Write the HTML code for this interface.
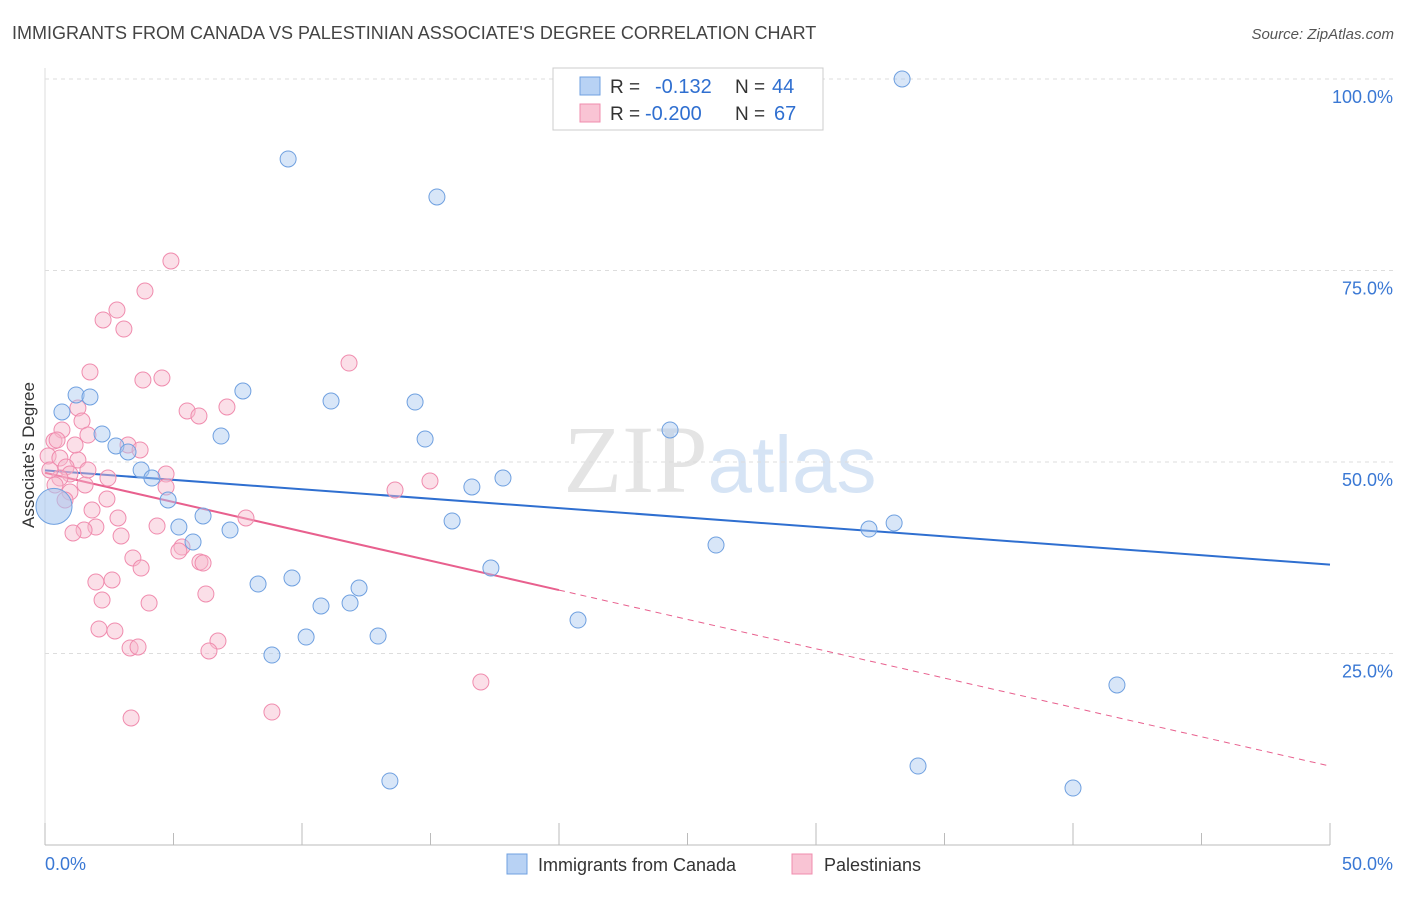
<!DOCTYPE html>
<html><head><meta charset="utf-8"><style>
body{margin:0;background:#fff;font-family:"Liberation Sans",sans-serif}
</style></head><body>
<svg id="c" width="1406" height="892" xmlns="http://www.w3.org/2000/svg" style="font-family:'Liberation Sans',sans-serif">
<text x="12" y="39" font-size="18" fill="#444">IMMIGRANTS FROM CANADA VS PALESTINIAN ASSOCIATE'S DEGREE CORRELATION CHART</text>
<text x="1394" y="39" font-size="15" fill="#555" text-anchor="end" font-style="italic">Source: ZipAtlas.com</text>
<text x="720" y="492" font-size="96" fill="#e4e4e4" text-anchor="middle" font-family="Liberation Serif">ZIP<tspan fill="#d6e4f5" font-family="Liberation Sans" font-size="80">atlas</tspan></text>
<g id="grid"></g><g id="axes"></g><g id="lines"></g><g id="pts"></g>
<text transform="translate(34,455) rotate(-90)" font-size="17" fill="#333" text-anchor="middle">Associate's Degree</text>
<g>
<rect x="553" y="68" width="270" height="62" fill="#fff" stroke="#ccc"/>
<rect x="580" y="77" width="20" height="18" fill="#b8d2f4" stroke="#6fa0e0"/>
<rect x="580" y="104" width="20" height="18" fill="#f9c4d4" stroke="#f08cae"/>
<text x="610" y="93" font-size="19" fill="#333">R =</text>
<text x="655" y="93" font-size="20" fill="#2f6fd0">-0.132</text>
<text x="735" y="93" font-size="19" fill="#333">N =</text>
<text x="772" y="93" font-size="20" fill="#2f6fd0">44</text>
<text x="610" y="120" font-size="19" fill="#333">R =</text>
<text x="645" y="120" font-size="20" fill="#2f6fd0">-0.200</text>
<text x="735" y="120" font-size="19" fill="#333">N =</text>
<text x="774" y="120" font-size="20" fill="#2f6fd0">67</text>
</g>
<g>
<rect x="507" y="854" width="20" height="20" fill="#b8d2f4" stroke="#6fa0e0"/>
<text x="538" y="871" font-size="18" fill="#333">Immigrants from Canada</text>
<rect x="792" y="854" width="20" height="20" fill="#f9c4d4" stroke="#f08cae"/>
<text x="824" y="871" font-size="18" fill="#333">Palestinians</text>
</g>
</svg>
<script>
const yTicks=[25,50,75,100];
const yTickLabels=["25.0%","50.0%","75.0%","100.0%"];
const xTickLabels=["0.0%","50.0%"];
const bluePx=[[902,79],[288,159],[437,197],[62,412],[76,395],[90,397],[243,391],[331,401],[415,402],[221,436],[425,439],[670,430],[102,434],[116,446],[128,452],[141,470],[152,478],[168,500],[503,478],[472,487],[179,527],[203,516],[193,542],[230,530],[452,521],[869,529],[894,523],[716,545],[491,568],[292,578],[258,584],[359,588],[321,606],[350,603],[306,637],[378,636],[578,620],[272,655],[1117,685],[918,766],[390,781],[1073,788],[808,80]];
const pinkPx=[[171,261],[145,291],[117,310],[103,320],[124,329],[349,363],[90,372],[143,380],[162,378],[187,411],[199,416],[227,407],[78,408],[82,421],[62,430],[88,435],[54,441],[57,440],[128,445],[140,450],[48,456],[60,458],[78,460],[66,467],[70,474],[166,474],[108,478],[60,478],[85,485],[166,487],[430,481],[395,490],[70,492],[107,499],[92,510],[118,518],[246,518],[157,526],[96,527],[84,530],[73,533],[121,536],[182,547],[179,551],[133,558],[141,568],[200,562],[203,563],[96,582],[112,580],[102,600],[206,594],[149,603],[99,629],[115,631],[218,641],[130,648],[138,647],[209,651],[481,682],[272,712],[131,718],[50,470],[55,485],[65,500],[88,470],[75,445]];
const toData=p=>[+((p[0]-45)/1285*50).toFixed(2),+((845-p[1])/766*100).toFixed(2)];
const blueX=bluePx.map(p=>toData(p)[0]), blueY=bluePx.map(p=>toData(p)[1]);
const pinkX=pinkPx.map(p=>toData(p)[0]), pinkY=pinkPx.map(p=>toData(p)[1]);
const bigBlue=[0.35,44.2];
const blueLine=[48.9,36.6];
const pinkLine=[48.6,10.3]; const pinkSolidEnd=20;
const X=v=>45+v/50*1285, Y=v=>845-v/100*766;
const NS="http://www.w3.org/2000/svg";
function mk(t,a,parent){const e=document.createElementNS(NS,t);for(const k in a)e.setAttribute(k,a[k]);document.getElementById(parent).appendChild(e);return e;}
yTicks.forEach((t,i)=>{
 const g=mk('line',{x1:45,x2:1394,y1:Y(t),y2:Y(t),stroke:'#ddd','stroke-dasharray':'4,4'},'grid');
 
 
 const l=mk('text',{x:1393,y:Y(t)+24,'font-size':18,fill:'#3a78d4','text-anchor':'end'},'axes');
 l.textContent=yTickLabels[i];
 
 
});
const ax=mk('line',{x1:45,x2:1330,y1:845,y2:845,stroke:'#bbb'},'axes');


const ay=mk('line',{x1:45,x2:45,y1:68,y2:845,stroke:'#ddd'},'axes');


for(let i=0;i<=10;i++){const t=mk('line',{x1:X(i*5),x2:X(i*5),y1:845,y2:i%2?833:823,stroke:'#bbb'},'axes');
 
 }
[[45,'start',0],[1393,'end',1]].forEach(([x,a,i])=>{const t=mk('text',{x:x,y:870,'font-size':18,fill:'#3a78d4','text-anchor':a},'axes');t.textContent=xTickLabels[i];
 
 });
const bl=mk('line',{x1:X(0),y1:Y(blueLine[0]),x2:X(50),y2:Y(blueLine[1]),stroke:'#2f6fd0','stroke-width':2},'lines');


const py=x=>pinkLine[0]+(pinkLine[1]-pinkLine[0])*x/50;
const ps=mk('line',{x1:X(0),y1:Y(py(0)),x2:X(pinkSolidEnd),y2:Y(py(pinkSolidEnd)),stroke:'#e8608e','stroke-width':2},'lines');


const pd=mk('line',{x1:X(pinkSolidEnd),y1:Y(py(pinkSolidEnd)),x2:X(50),y2:Y(py(50)),stroke:'#e8608e','stroke-width':1,'stroke-dasharray':'6,5'},'lines');


pinkX.forEach((x,i)=>{const c=mk('circle',{cx:X(x),cy:Y(pinkY[i]),r:8,fill:'rgba(247,184,203,0.45)',stroke:'#f08cae','stroke-width':1},'pts');
 
 });
blueX.forEach((x,i)=>{const c=mk('circle',{cx:X(x),cy:Y(blueY[i]),r:8,fill:'rgba(168,200,240,0.45)',stroke:'#6fa0e0','stroke-width':1},'pts');
 
 });
const bb=mk('circle',{cx:X(bigBlue[0]),cy:Y(bigBlue[1]),r:18,fill:'rgba(168,200,240,0.6)',stroke:'#6fa0e0'},'pts');


</script>
</body></html>
